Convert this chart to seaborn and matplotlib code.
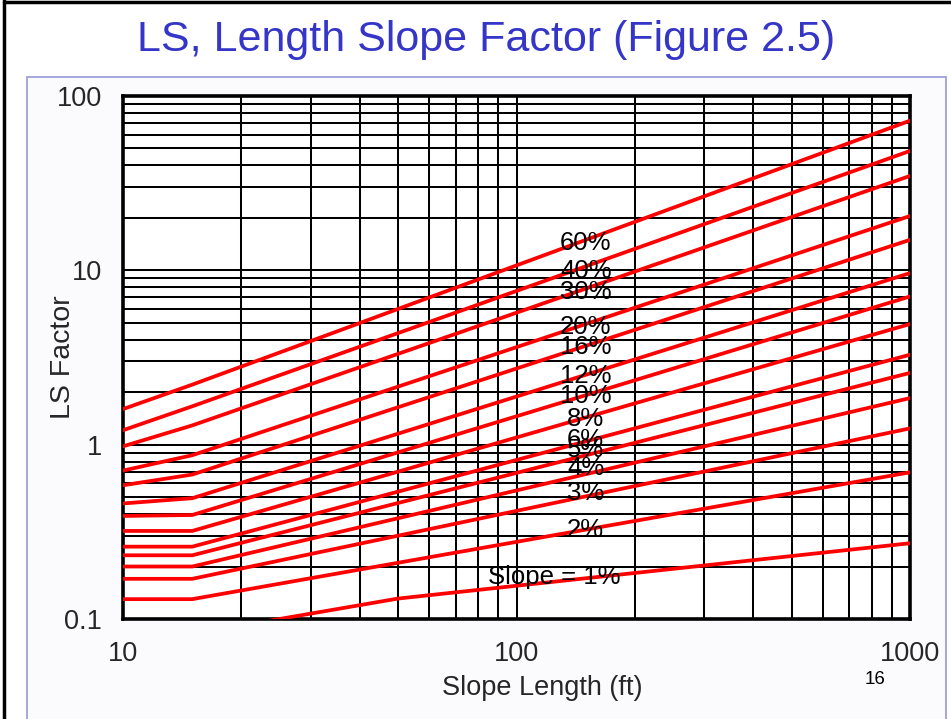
import numpy as np
import pandas as pd
import matplotlib
matplotlib.use("Agg")
import matplotlib.pyplot as plt
import seaborn as sns
from matplotlib.patches import Rectangle
from matplotlib.lines import Line2D
from matplotlib.ticker import FixedLocator, FixedFormatter, LogLocator, NullFormatter

# ---------------- data ----------------
slopes = ["1%", "2%", "3%", "4%", "5%", "6%", "8%", "10%", "12%", "16%", "20%", "30%", "40%", "60%"]
lengths = [10, 15, 1000]                      # slope length breakpoints (ft)
ls_at_10 = [0.082, 0.130, 0.170, 0.200, 0.232, 0.260, 0.320, 0.390, 0.460, 0.585, 0.710, 0.978, 1.21, 1.60]
ls_at_15 = [0.082, 0.130, 0.170, 0.200, 0.232, 0.260, 0.320, 0.395, 0.493, 0.674, 0.870, 1.29, 1.66, 2.21]
ls_at_1000 = [0.272, 0.694, 1.24, 1.85, 2.58, 3.28, 4.92, 7.08, 9.64, 14.96, 20.5, 34.8, 48.4, 72.2]
one_pct_lengths = [10, 15, 50, 1000]         # the 1% curve has an extra bend
one_pct_ls = [0.082, 0.082, 0.131, 0.272]

curve_labels = ["Slope = 1%", "2%", "3%", "4%", "5%", "6%", "8%", "10%", "12%", "16%", "20%", "30%", "40%", "60%"]
label_x = [125, 150, 150, 150, 150, 150, 150, 150, 150, 150, 150, 150, 150, 150]
label_y = [0.175, 0.322, 0.528, 0.73, 0.93, 1.07, 1.40, 1.90, 2.48, 3.63, 4.70, 7.55, 9.95, 14.4]

x_ticks = [10, 100, 1000]
x_tick_labels = ["10", "100", "1000"]
y_ticks = [0.1, 1, 10, 100]
y_tick_labels = ["0.1", "1", "10", "100"]

title = "LS, Length Slope Factor (Figure 2.5)"
x_label = "Slope Length (ft)"
y_label = "LS Factor"
page_no = "16"

# ---------------- build long table ----------------
rows = []
for i, s in enumerate(slopes):
    if s == "1%":
        xs, ys = one_pct_lengths, one_pct_ls
    else:
        xs, ys = lengths, [ls_at_10[i], ls_at_15[i], ls_at_1000[i]]
    for k, (xv, yv) in enumerate(zip(xs, ys)):
        rows.append({"slope": s, "order": k, "length": xv, "ls": yv})
df = pd.DataFrame(rows)

# ---------------- figure ----------------
sns.set_theme(style="white")
plt.rcParams["font.family"] = ["Liberation Sans", "DejaVu Sans"]

W, H = 951, 719
fig = plt.figure(figsize=(W / 100, H / 100), dpi=100)
fig.patch.set_facecolor("white")

def fx(px):
    return px / W

def fy(py):
    return 1 - py / H

# slide frame: black outer border (left/top) and lavender content box
fig.add_artist(Line2D([fx(4), fx(4)], [fy(0), fy(719)], color="black", lw=2.5, transform=fig.transFigure))
fig.add_artist(Line2D([fx(4), fx(951)], [fy(1.5), fy(1.5)], color="black", lw=2.5, transform=fig.transFigure))
fig.add_artist(Rectangle((fx(27), fy(740)), fx(946) - fx(27), fy(77) - fy(740),
                         transform=fig.transFigure, facecolor="#fbfbfe",
                         edgecolor="#a0a0dc", lw=1.3, zorder=0))

fig.text(fx(486), fy(40), title, ha="center", va="center", color="#3535c8", fontsize=31)
fig.text(fx(875), fy(679), page_no, ha="center", va="center", color="black", fontsize=13.5)

ax = fig.add_axes([fx(123), fy(619), fx(910) - fx(123), fy(96) - fy(619)])
ax.set_facecolor("white")

sns.lineplot(data=df, x="length", y="ls", hue="slope", units="slope", estimator=None,
             sort=False, palette={s: "#ff0000" for s in slopes}, legend=False,
             linewidth=2.7, ax=ax, zorder=3)

ax.set_xscale("log")
ax.set_yscale("log")
ax.set_xlim(10, 1000)
ax.set_ylim(0.1, 100)

ax.xaxis.set_major_locator(FixedLocator(x_ticks))
ax.xaxis.set_major_formatter(FixedFormatter(x_tick_labels))
ax.yaxis.set_major_locator(FixedLocator(y_ticks))
ax.yaxis.set_major_formatter(FixedFormatter(y_tick_labels))
ax.xaxis.set_minor_locator(LogLocator(base=10, subs=np.arange(2, 10)))
ax.yaxis.set_minor_locator(LogLocator(base=10, subs=np.arange(2, 10)))
ax.xaxis.set_minor_formatter(NullFormatter())
ax.yaxis.set_minor_formatter(NullFormatter())

ax.grid(True, which="both", color="black", lw=1.45)
ax.set_axisbelow(True)
ax.tick_params(which="major", direction="in", length=8, width=2.8, color="black",
               labelsize=19.5, top=False, right=False)
ax.tick_params(axis="x", which="major", pad=16)
ax.tick_params(axis="y", which="major", pad=15)
ax.tick_params(which="minor", direction="in", length=5, width=2.4, color="black",
               top=False, right=False)
for sp in ax.spines.values():
    sp.set_color("black")
    sp.set_linewidth(2.6)
    sp.set_visible(True)

ax.set_xlabel(x_label, fontsize=19.5)
ax.set_ylabel(y_label, fontsize=20.5)
ax.xaxis.set_label_coords((542 - 123) / 787, (619 - 675) / 523)
ax.yaxis.set_label_coords((76 - 123) / 787, 0.5)

for txt, lx, ly in zip(curve_labels, label_x, label_y):
    ax.text(lx, ly, txt, ha="center", va="center", fontsize=18.5, color="black", zorder=5)

fig.savefig("out.png", dpi=100)
